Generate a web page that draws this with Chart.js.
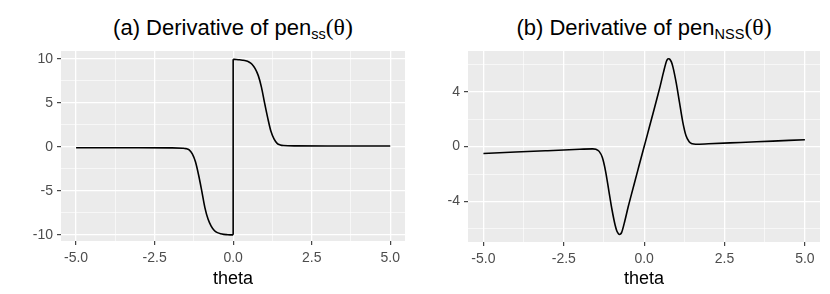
<!DOCTYPE html>
<html>
<head>
<meta charset="utf-8">
<script src="https://cdn.jsdelivr.net/npm/chart.js@4"></script>
<style>
  body { margin: 0; background: #fff; }
  .panel { position: absolute; top: 0; width: 415px; height: 294px; }
  .panel canvas { position: absolute; left: 0; top: 0; }
  .title {
    position: absolute; top: 15px; width: 400px; text-align: center;
    font-family: "Liberation Sans", Arial, sans-serif; font-size: 22px; line-height: 24px; color: #000;
    white-space: nowrap;
  }
  .title sub { font-size: 0.66em; vertical-align: -0.3em; }
  .title .math { font-family: "Liberation Serif", "DejaVu Serif", serif; font-size: 1.08em; }
</style>
</head>
<body>
<div class="panel" style="left:0">
  <div class="title" style="left:33px">(a) Derivative of pen<sub>ss</sub><span class="math">(θ)</span></div>
  <canvas id="chartA" width="415" height="294"></canvas>
</div>
<div class="panel" style="left:415px">
  <div class="title" style="left:29px">(b) Derivative of pen<sub>NSS</sub><span class="math">(θ)</span></div>
  <canvas id="chartB" width="415" height="294"></canvas>
</div>
<script>
// panel (a): spike-and-slab penalty derivative, jump at 0
const thetaLeftA = [-5, -4, -3, -2, -1.6, -1.5, -1.4, -1.3, -1.2, -1.1, -1.0, -0.9, -0.8, -0.7, -0.6, -0.5, -0.4, -0.3, -0.2, -0.1, 0];
const derivLeftA = [-0.1, -0.1, -0.1, -0.11, -0.15, -0.2, -0.35, -0.8, -1.7, -3.2, -5.0, -6.9, -8.2, -9.0, -9.5, -9.75, -9.88, -9.95, -9.98, -10, -10];
const thetaJumpA = [0, 0];
const derivJumpA = [-10, 9.95];
const thetaRightA = [0, 0.1, 0.2, 0.3, 0.4, 0.5, 0.6, 0.7, 0.8, 0.9, 1.0, 1.1, 1.2, 1.3, 1.4, 1.5, 1.6, 2, 3, 4, 5];
const derivRightA = [9.95, 9.93, 9.9, 9.85, 9.78, 9.65, 9.4, 8.9, 8.1, 6.8, 5.0, 3.3, 1.8, 0.9, 0.4, 0.22, 0.15, 0.11, 0.1, 0.1, 0.1];

// panel (b)
const thetaB = [-5, -4, -3, -2, -1.6, -1.5, -1.4, -1.3, -1.2, -1.1, -1.0, -0.9, -0.85, -0.8, -0.77, -0.74, -0.7, -0.6, -0.5, -0.4, -0.3, -0.2, -0.1, 0,
  0.1, 0.2, 0.3, 0.4, 0.5, 0.6, 0.7, 0.74, 0.77, 0.8, 0.85, 0.9, 1.0, 1.1, 1.2, 1.3, 1.4, 1.5, 1.6, 2, 3, 4, 5];
const derivB = [-0.5, -0.4, -0.3, -0.2, -0.17, -0.2, -0.35, -0.8, -1.8, -3.2, -4.6, -5.75, -6.15, -6.35, -6.4, -6.38, -6.25, -5.4, -4.42, -3.52, -2.63, -1.75, -0.87, 0,
  0.87, 1.75, 2.63, 3.52, 4.42, 5.4, 6.25, 6.38, 6.4, 6.35, 6.15, 5.75, 4.6, 3.2, 1.8, 0.8, 0.35, 0.2, 0.17, 0.2, 0.3, 0.4, 0.5];

const xTicks = [-5, -3.75, -2.5, -1.25, 0, 1.25, 2.5, 3.75, 5];
const xMajor = [-5, -2.5, 0, 2.5, 5];
const yTicksA = [-10, -7.5, -5, -2.5, 0, 2.5, 5, 7.5, 10];
const yMajorA = [-10, -5, 0, 5, 10];
const yTicksB = [-6, -4, -2, 0, 2, 4, 6];
const yMajorB = [-4, 0, 4];

const tickFont = { family: "'Liberation Sans', Arial, sans-serif", size: 14 };

function toPoints(xs, ys) {
    return xs.map((x, i) => ({ x: x, y: ys[i] }));
}

const panelBackground = {
    id: 'panelBackground',
    beforeDraw(chart) {
        const { ctx, chartArea } = chart;
        ctx.save();
        ctx.fillStyle = '#EBEBEB';
        ctx.fillRect(chartArea.left, chartArea.top, chartArea.right - chartArea.left, chartArea.bottom - chartArea.top);
        ctx.restore();
    }
};

function makeScale(ticks, major, min, max, fmt, size, isX) {
    return {
        type: 'linear',
        min: min,
        max: max,
        afterBuildTicks: (scale) => { scale.ticks = ticks.map(v => ({ value: v })); },
        afterFit: (scale) => {
            if (isX) {
                scale.height = size;
                scale.paddingLeft = 0;
                scale.paddingRight = 0;
            } else {
                scale.width = size;
                scale.paddingTop = 0;
                scale.paddingBottom = 0;
            }
        },
        border: { display: false },
        grid: {
            color: '#FFFFFF',
            lineWidth: (ctx) => major.includes(ctx.tick.value) ? 1.3 : 0.6,
            tickColor: (ctx) => major.includes(ctx.tick.value) ? '#333333' : 'rgba(0,0,0,0)',
            tickWidth: 1.1,
            tickLength: 4
        },
        ticks: {
            autoSkip: false,
            maxRotation: 0,
            color: '#4D4D4D',
            font: tickFont,
            padding: isX ? 5 : 4,
            callback: (v) => major.includes(v) ? fmt(v) : ''
        },
        title: isX ? {
            display: true,
            text: 'theta',
            color: '#000000',
            font: { family: "'Liberation Sans', Arial, sans-serif", size: 18 },
            padding: { top: 0, bottom: 4 }
        } : { display: false }
    };
}

function lineSet(points, smooth) {
    return {
        data: points,
        borderColor: '#000000',
        borderWidth: 1.6,
        pointRadius: 0,
        fill: false,
        cubicInterpolationMode: smooth ? 'monotone' : 'default',
        tension: 0
    };
}

function renderPanel(canvasId, datasets, yScale, xHeight) {
    const ctx = document.getElementById(canvasId).getContext('2d');
    return new Chart(ctx, {
        type: 'line',
        data: { datasets: datasets },
        options: {
            responsive: false,
            animation: false,
            layout: { padding: { top: 51, right: 10, left: 0, bottom: 0 } },
            scales: {
                x: makeScale(xTicks, xMajor, -5.48, 5.47, (v) => v.toFixed(1), xHeight, true),
                y: yScale
            },
            plugins: {
                legend: { display: false },
                tooltip: { enabled: false }
            }
        },
        plugins: [panelBackground]
    });
}

renderPanel('chartA', [
    lineSet(toPoints(thetaLeftA, derivLeftA), true),
    lineSet(toPoints(thetaJumpA, derivJumpA), false),
    lineSet(toPoints(thetaRightA, derivRightA), true)
], makeScale(yTicksA, yMajorA, -10.7, 10.9, (v) => String(v), 61, false), 53);

renderPanel('chartB', [
    lineSet(toPoints(thetaB, derivB), true)
], makeScale(yTicksB, yMajorB, -6.95, 6.96, (v) => String(v), 53, false), 52);
</script>
</body>
</html>
